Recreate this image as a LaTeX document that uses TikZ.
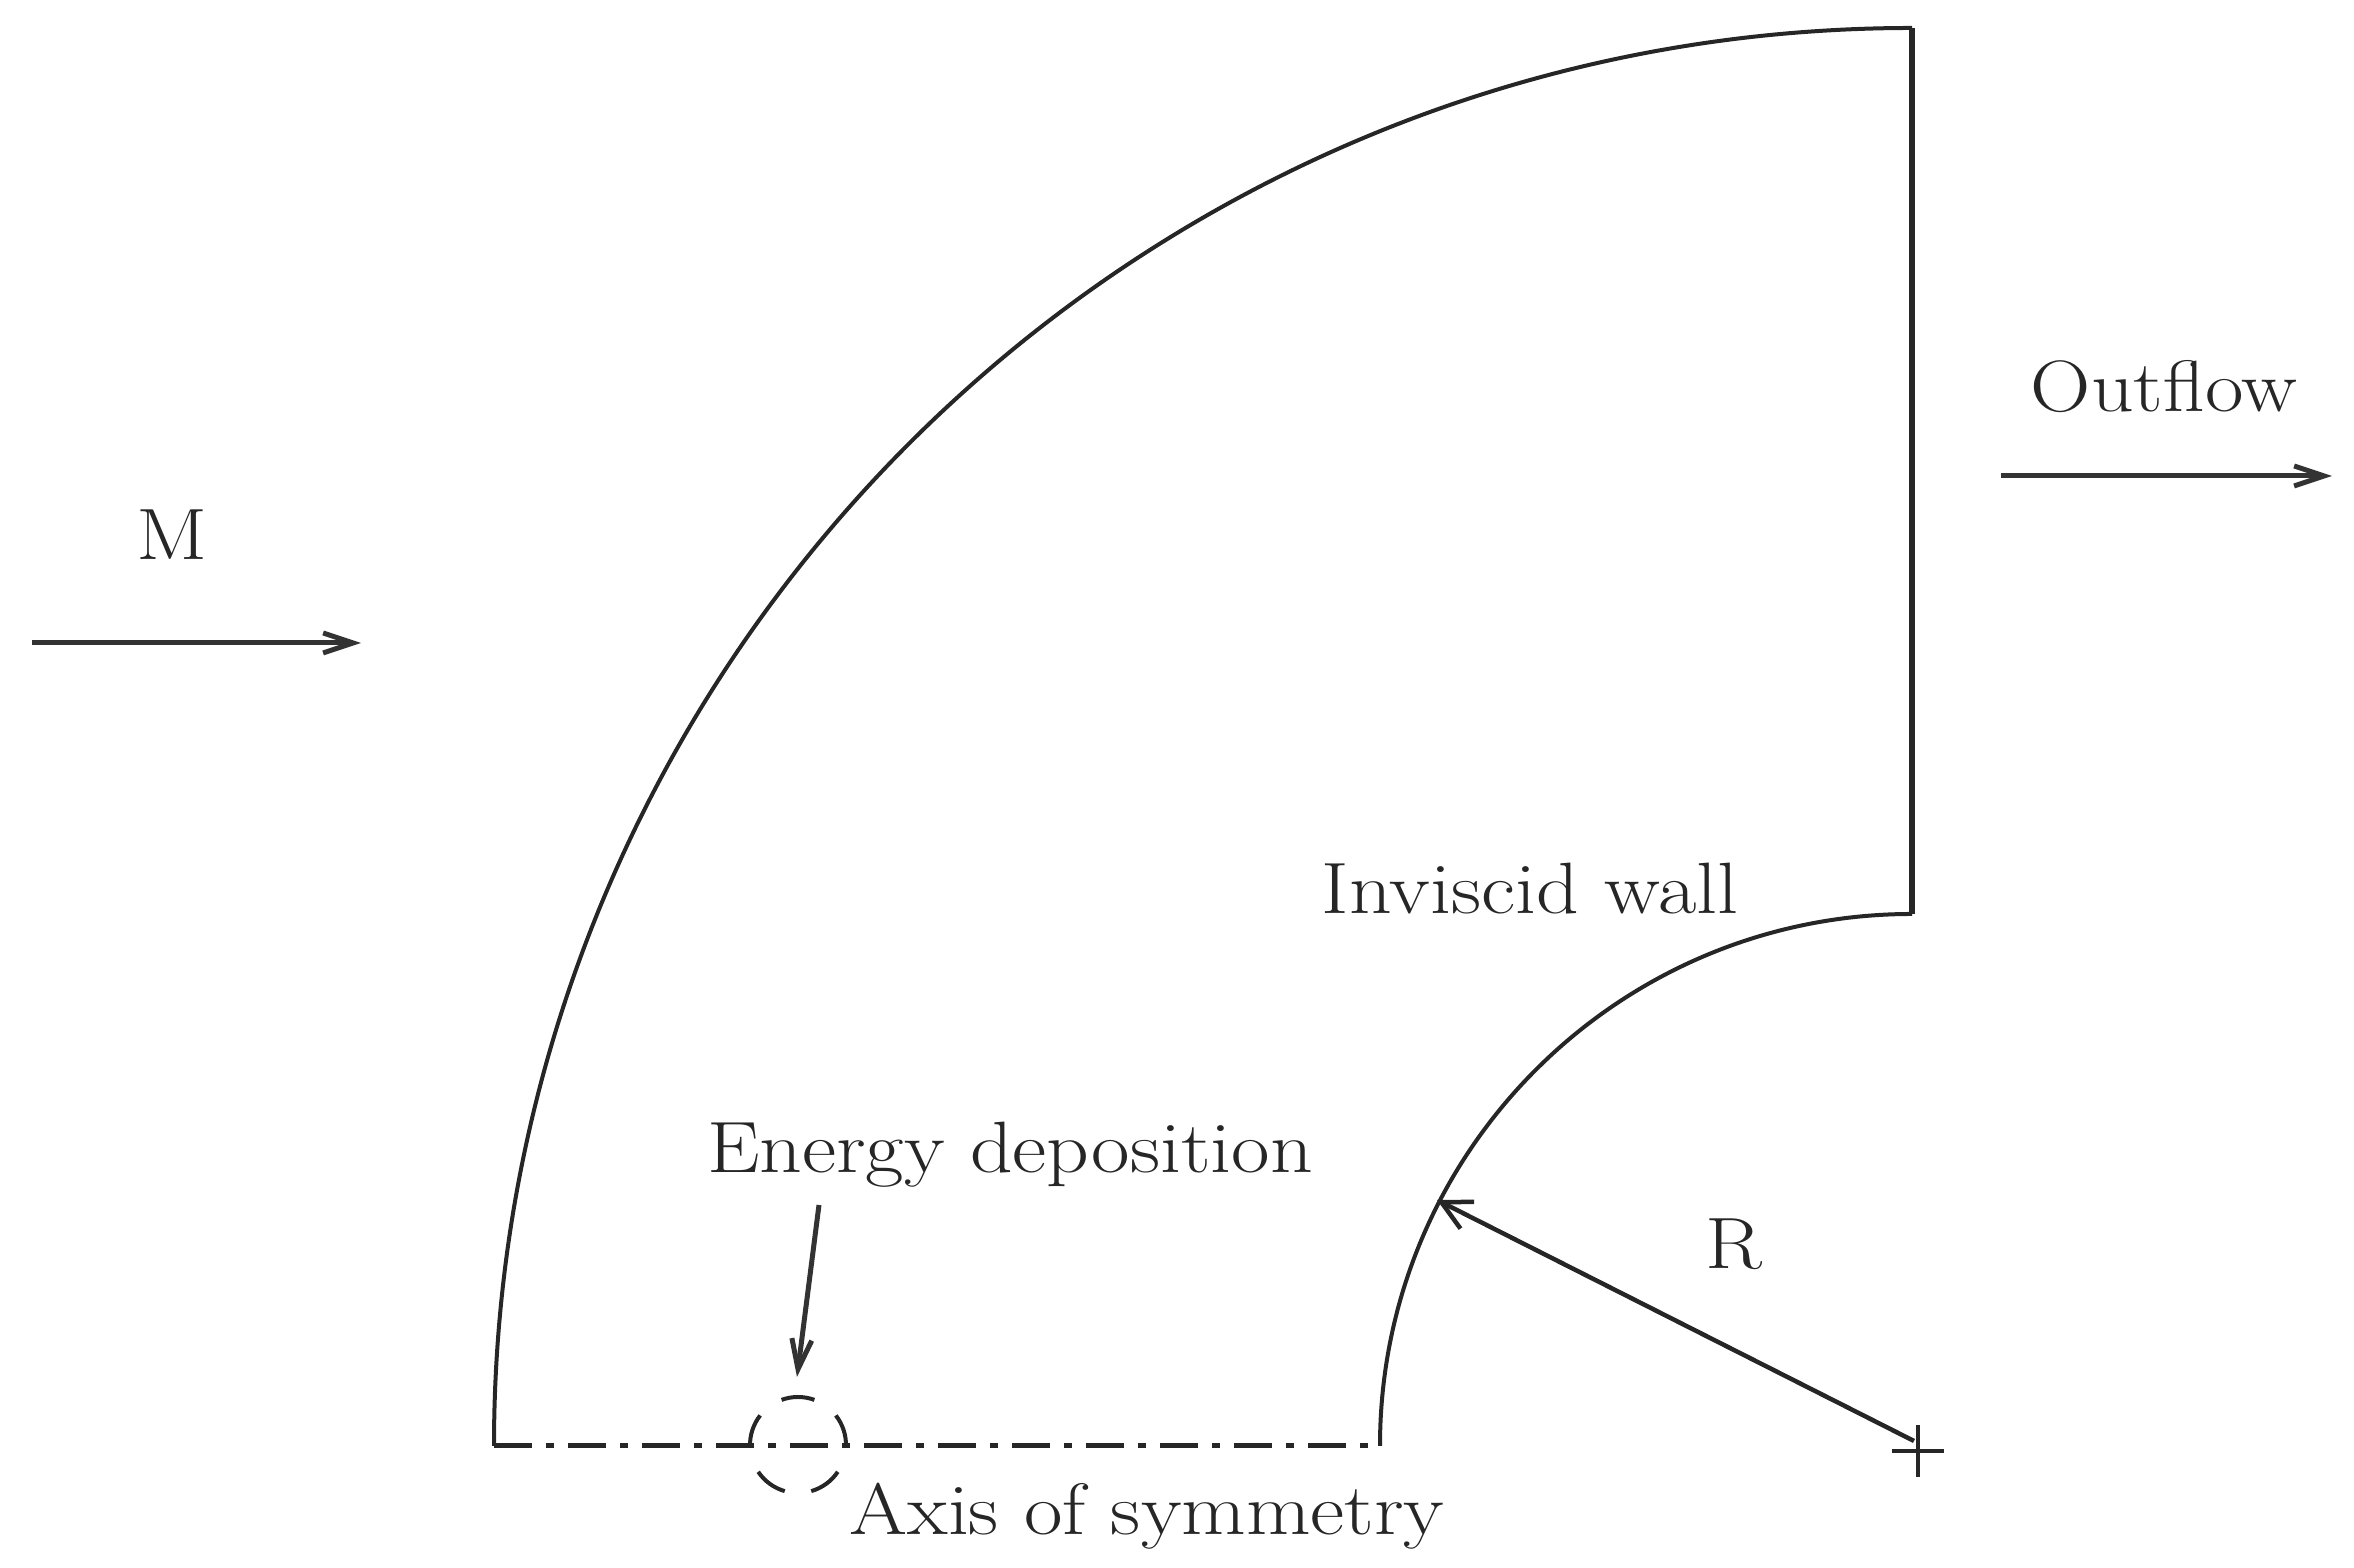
\documentclass[tikz,border=0pt]{standalone}
\usepackage{amsmath}
\usepackage{xcolor}
\usetikzlibrary{arrows.meta,calc}
\tikzset{
	wall/.style = {line width=0.04cm, black!85},
	outlet/.style = {line width=0.06cm, black!85},
	axisline/.style = {line width=0.05cm, black!85, dash pattern=on 0.38cm off 0.14cm on 0.08cm off 0.14cm},
	flowarrow/.style = {line width=0.05cm, black!80, -{Straight Barb[length=0.3cm,width=0.2cm]}},
	radiusarrow/.style = {line width=0.045cm, black!85, -{Straight Barb[length=0.29cm,width=0.3cm]}},
	lbl/.style = {anchor=base, inner sep=0pt, text=black!85, xscale=1.15, transform shape, font=\fontsize{20.7}{25}\selectfont}
}

\begin{document}
\begin{tikzpicture}
	\useasboundingbox (0,0) rectangle (23.54,15.68);
	\coordinate (A) at (4.94,1.22);
	\coordinate (B) at (19.12,15.40);
	\coordinate (C) at (13.80,1.22);
	\coordinate (D) at (19.12,6.54);
	\coordinate (O) at (19.18,1.17);
	\coordinate (T) at (14.37,3.68);
	\coordinate (Rs) at (19.14,1.27);
	\coordinate (S) at (7.98,1.23);
	\coordinate (Es) at (8.19,3.63);
	\coordinate (Et) at (7.97,1.91);
	\coordinate (Ms) at (0.32,9.25);
	\coordinate (Mt) at (3.61,9.25);
	\coordinate (Fs) at (20.01,10.92);
	\coordinate (Ft) at (23.32,10.92);
	% boundary
	\draw [wall] (A) arc (180:90:14.18);
	\draw [outlet] (B) -- (D);
	\draw [wall] (D) arc (90:180:5.32);
	\draw [axisline] (A) -- (C);
	% deposition spot
	\foreach \a in {18,90,162,234,306}
		\draw [wall] ($(S)+(\a-20:0.48)$) arc (\a-20:\a+20:0.48);
	% arrows
	\draw [flowarrow] (Ms) -- (Mt);
	\draw [flowarrow] (Fs) -- (Ft);
	\draw [flowarrow] (Es) -- (Et);
	\draw [radiusarrow] (Rs) -- (T);
	\draw [wall] ($(O)+(-0.26,0)$) -- ($(O)+(0.26,0)$);
	\draw [wall] ($(O)+(0,-0.26)$) -- ($(O)+(0,0.26)$);
	% labels
	\node [lbl] (m) at (1.72,10.08) {M};
	\node [lbl] (outflow) at (21.64,11.56) {Outflow};
	\node [lbl] (wall) at (15.30,6.54) {Inviscid wall};
	\node [lbl] (energy) at (10.10,3.95) {Energy deposition};
	\node [lbl] (axis) at (11.47,0.33) {Axis of symmetry};
	\node [lbl] (r) at (17.34,2.99) {R};
\end{tikzpicture}
\end{document}
